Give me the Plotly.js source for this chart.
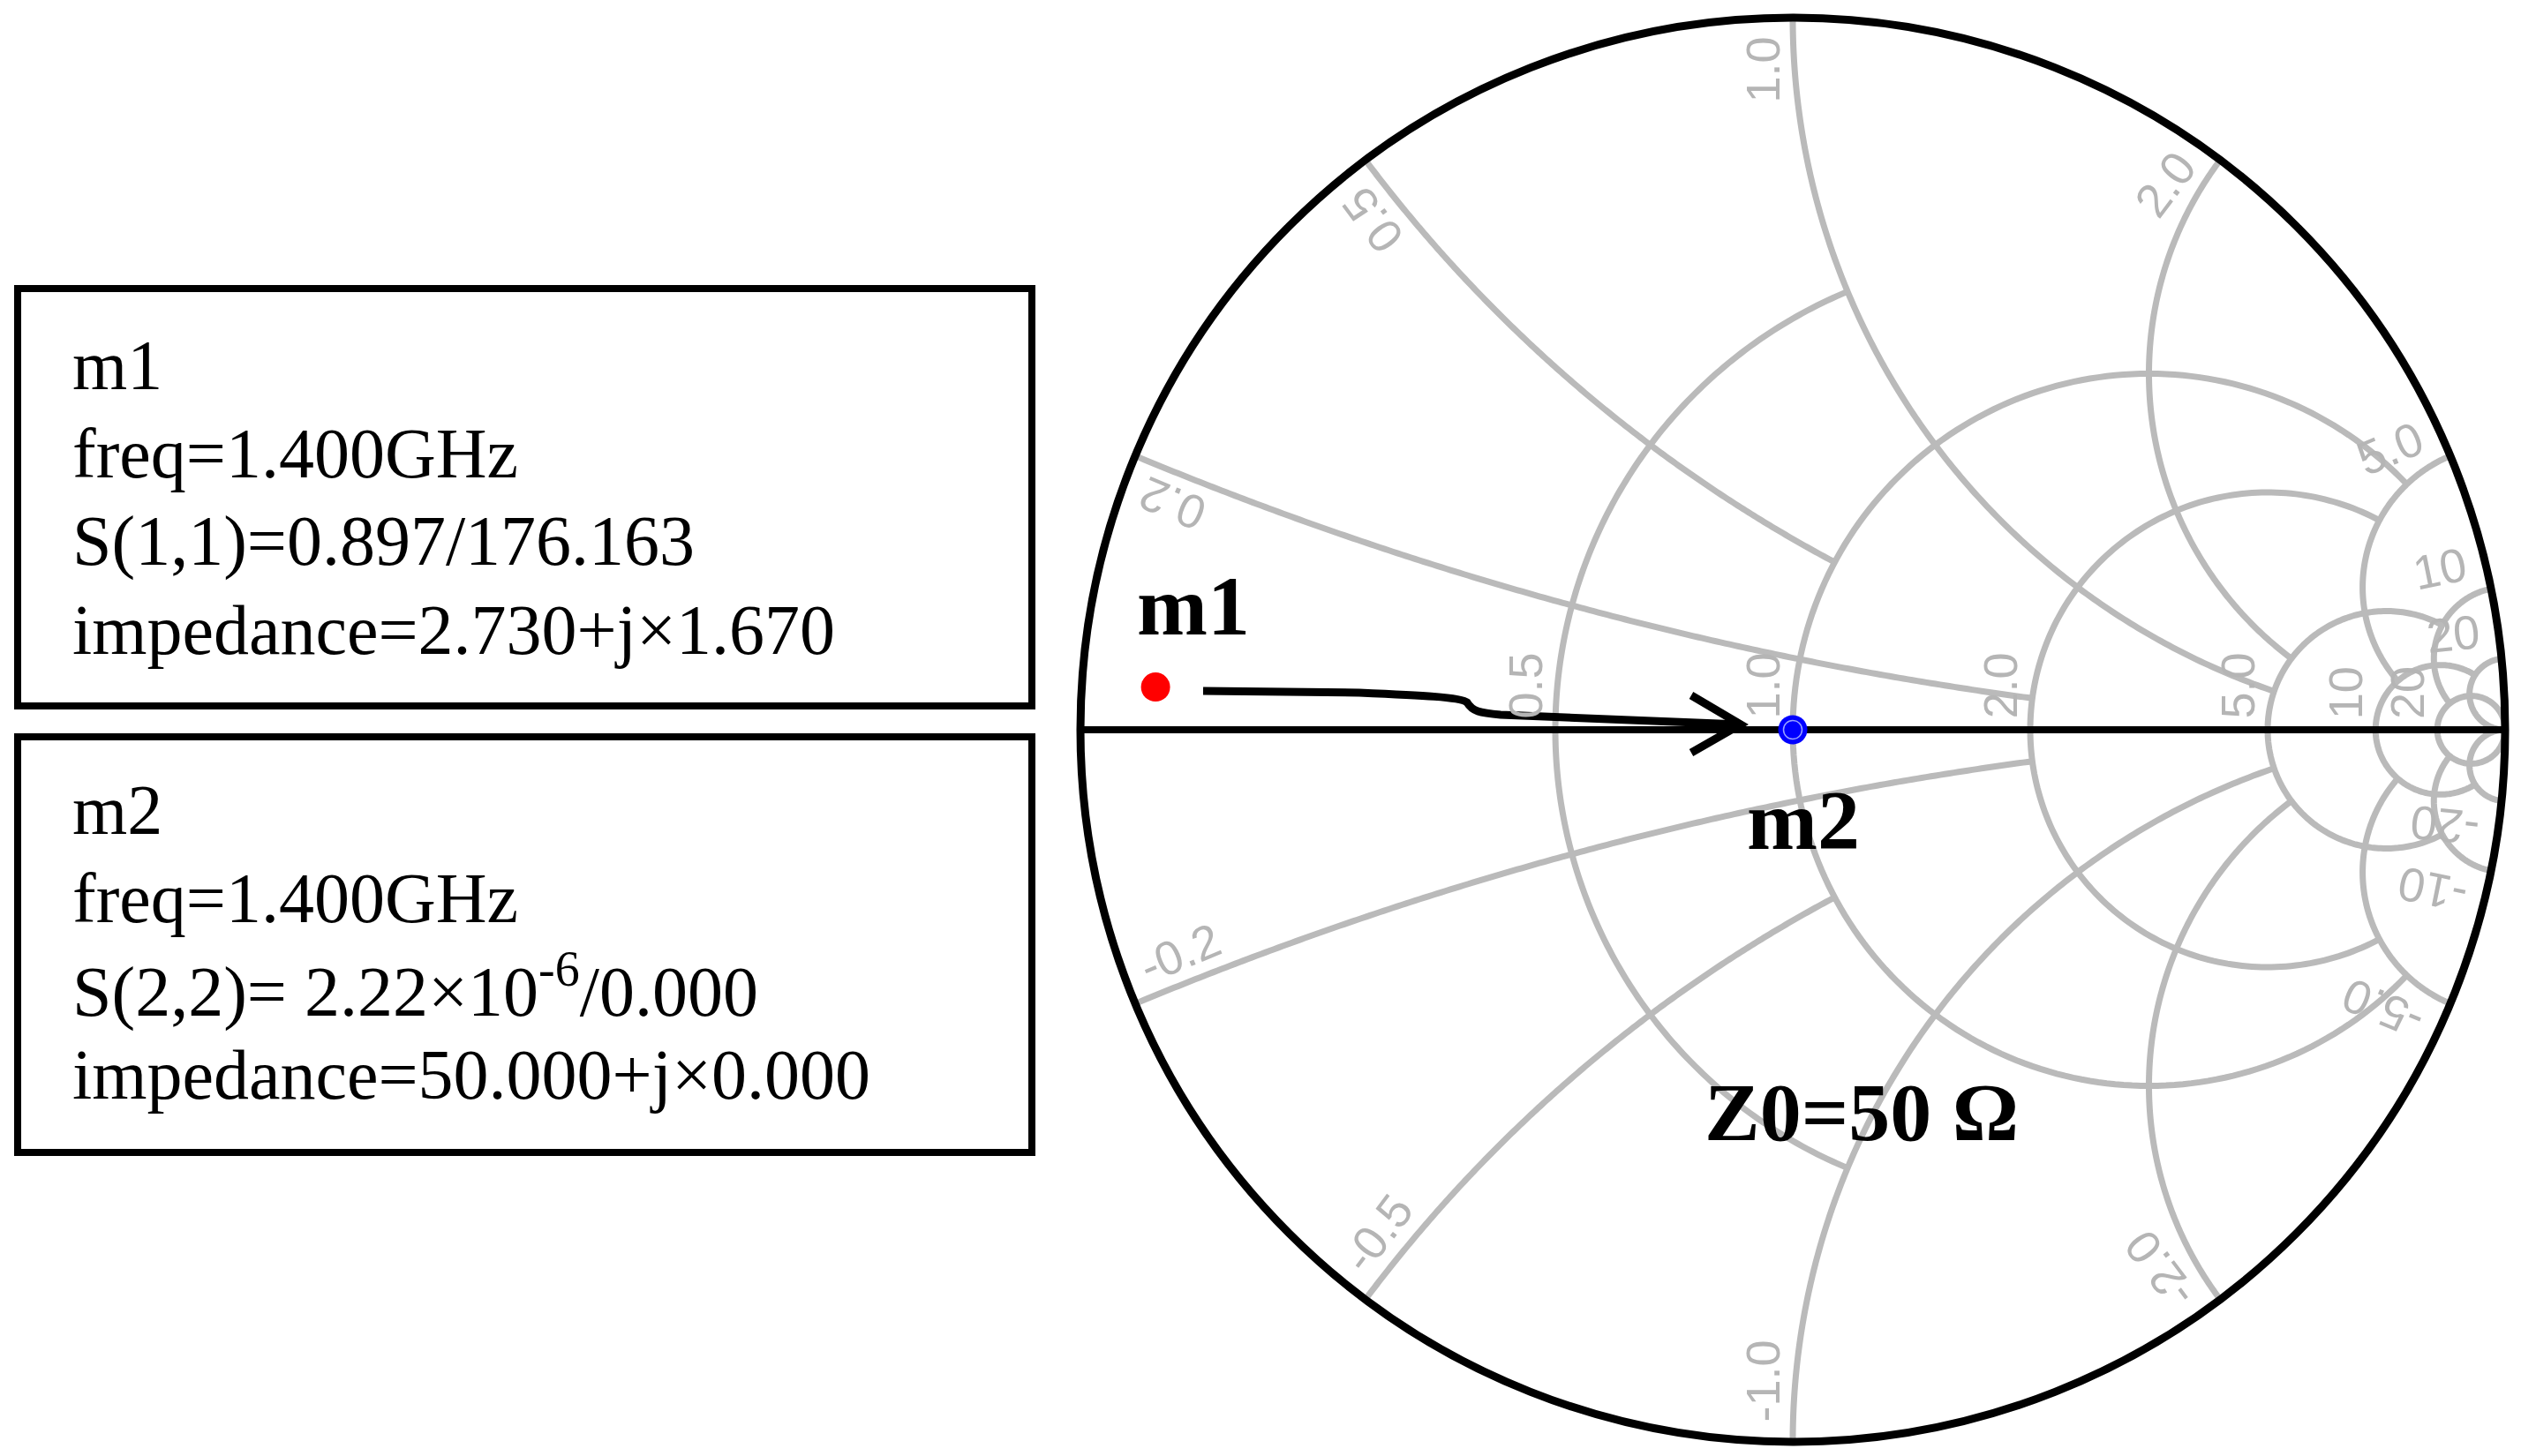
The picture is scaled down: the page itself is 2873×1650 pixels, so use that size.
<!DOCTYPE html>
<html><head><meta charset="utf-8">
<script src="https://cdn.plot.ly/plotly-3.0.1.min.js"></script>
<style>html,body{margin:0;padding:0;background:#fff;}#chart{width:2873px;height:1650px;}</style>
</head><body><div id="chart"></div>
<script>
// ---------------- data ----------------
const Z0 = 50;
const markerNames = ['m1', 'm2'];
const freqText = ['1.400GHz', '1.400GHz'];
const sParamNames = ['S(1,1)', 'S(2,2)'];
const sMagText = ['0.897', ' 2.22×10<sup>-6</sup>'];
const sAngText = ['176.163', '0.000'];
const zRealOhm = [2.730, 50.000];
const zImagOhm = [1.670, 0.000];
const zRealText = ['2.730', '50.000'];
const zImagText = ['1.670', '0.000'];
const markerColors = ['#ff0000', '#0000ff'];
// resistance circles and how far (in |reactance|) each one is drawn
const realTickVals = [0.5, 1, 2, 5, 10, 20];
const realTickText = ['0.5', '1.0', '2.0', '5.0', '10', '20'];
const realGridReach = [1, 5, 5, 10, 20, Infinity];
// reactance arcs and how far (in resistance) each one is drawn
const imagTickVals = [0.2, 0.5, 1, 2, 5, 10, 20];
const imagTickText = ['0.2', '0.5', '1.0', '2.0', '5.0', '10', '20'];
const imagGridReach = [2, 1, 5, 5, 10, 20, Infinity];
const z0Label = 'Z0=50 Ω';

// ---------------- geometry helpers ----------------
const W = 2873, H = 1650;
const CX = 2031, CY = 827, R = 807;
const px = x => x / W;
const py = y => 1 - y / H;
const GRID = '#bababa';
const LBL = '#b5b5b5';
const serif = 'Liberation Serif, Times New Roman, serif';
const sans = 'Liberation Sans, Arial, sans-serif';
const lblSize = 54;

function textLen(s, f) {
  let w = 0;
  for (const ch of s) w += (ch === '.') ? 0.278 : (ch === '-') ? 0.333 : 0.556;
  return w * f;
}
// reflection coefficient <-> normalised impedance
function gammaOf(r, x) {
  const d = (r + 1) * (r + 1) + x * x;
  return {x: (r * r - 1 + x * x) / d, y: 2 * x / d};
}
function zOf(gx, gy) {
  const d = (1 - gx) * (1 - gx) + gy * gy;
  return {r: (1 - gx * gx - gy * gy) / d, x: 2 * gy / d};
}

// ---------------- grid (drawn on the smith axes) ----------------
const gridRe = [], gridIm = [];
const NS = 200;
realTickVals.forEach((r, i) => {
  const L = realGridReach[i];
  const c = r / (r + 1), rho = 1 / (r + 1);
  let a0 = 0.0015;
  if (isFinite(L)) { const g = gammaOf(r, L); a0 = Math.atan2(g.y, g.x - c); }
  for (let k = 0; k <= NS; k++) {
    const a = a0 + (2 * Math.PI - 2 * a0) * k / NS;
    const z = zOf(c + rho * Math.cos(a), rho * Math.sin(a));
    gridRe.push(r); gridIm.push(z.x);
  }
  gridRe.push(null); gridIm.push(null);
});
imagTickVals.forEach((x, i) => {
  const L = imagGridReach[i];
  const g0 = gammaOf(0, x);
  let b0 = Math.atan2(g0.y - 1 / x, g0.x - 1);
  if (b0 > 0) b0 -= 2 * Math.PI;           // go round through the left-most point
  let b1 = -Math.PI / 2 - 0.0015;
  if (isFinite(L)) { const g1 = gammaOf(L, x); b1 = Math.atan2(g1.y - 1 / x, g1.x - 1); }
  [1, -1].forEach(sgn => {
    for (let k = 0; k <= NS; k++) {
      const b = b0 + (b1 - b0) * k / NS;
      const z = zOf(1 + Math.cos(b) / x, 1 / x + Math.sin(b) / x);
      gridRe.push(Math.max(0, z.r)); gridIm.push(sgn * x);
    }
    gridRe.push(null); gridIm.push(null);
  });
});

const annotations = [];
const shapes = [];

// marker readout boxes
const boxTop = [327, 835];
const boxBottom = [800, 1306];
const baseline0 = [441, 945];
const boxFont = 80;
for (let i = 0; i < markerNames.length; i++) {
  shapes.push({type: 'rect', xref: 'paper', yref: 'paper', x0: px(20), x1: px(1169),
    y0: py(boxBottom[i]), y1: py(boxTop[i]), line: {color: '#000', width: 8}, fillcolor: 'rgba(0,0,0,0)'});
  const lines = [
    markerNames[i],
    'freq=' + freqText[i],
    sParamNames[i] + '=' + sMagText[i] + '/' + sAngText[i],
    'impedance=' + zRealText[i] + '+j×' + zImagText[i]
  ];
  lines.forEach((t, k) => {
    annotations.push({xref: 'paper', yref: 'paper', x: px(80), y: py(baseline0[i] + k * 100 - 0.3375 * boxFont),
      xanchor: 'left', yanchor: 'middle', showarrow: false, text: t,
      font: {family: serif, size: boxFont, color: '#000'}});
  });
}

// chart labels
const chartLabelPos = [[1286, 719], [1977, 962]];
markerNames.forEach((n, i) => {
  annotations.push({xref: 'paper', yref: 'paper', x: px(chartLabelPos[i][0]), y: py(chartLabelPos[i][1] - 0.3375 * 96),
    xanchor: 'left', yanchor: 'middle', showarrow: false, text: '<b>' + n + '</b>',
    font: {family: serif, size: 96, color: '#000'}});
});
annotations.push({xref: 'paper', yref: 'paper', x: px(1929), y: py(1292 - 0.3375 * 94),
  xanchor: 'left', yanchor: 'middle', showarrow: false, text: '<b>' + z0Label + '</b>',
  font: {family: serif, size: 94, color: '#000'}});

// real-axis tick labels (rotated, above the axis, left of each circle)
realTickVals.forEach((r, i) => {
  const g = (r - 1) / (r + 1);
  const xc = CX + R * g - 34;
  const yc = CY - 12 - textLen(realTickText[i], lblSize) / 2;
  annotations.push({xref: 'paper', yref: 'paper', x: px(xc), y: py(yc), xanchor: 'center', yanchor: 'middle',
    showarrow: false, textangle: -90, text: realTickText[i], font: {family: sans, size: lblSize, color: LBL}});
});

// imaginary-axis tick labels (inside the rim, rotated radially)
imagTickVals.forEach((x, i) => {
  [1, -1].forEach(sgn => {
    const xv = sgn * x;
    const th = Math.atan2(2 * xv, xv * xv - 1);
    const txt = (sgn < 0 ? '-' : '') + imagTickText[i];
    const Px = CX + R * Math.cos(th), Py = CY - R * Math.sin(th);
    const d = 22 + textLen(txt, lblSize) / 2;
    let xc = Px - d * Math.cos(th), yc = Py + d * Math.sin(th);
    let ang;
    if (sgn > 0) {
      xc += -34 * Math.sin(th); yc += -34 * Math.cos(th);
      ang = -th * 180 / Math.PI;
    } else {
      xc += 34 * Math.sin(th); yc += 34 * Math.cos(th);
      ang = -(th * 180 / Math.PI + 180);
    }
    annotations.push({xref: 'paper', yref: 'paper', x: px(xc), y: py(yc), xanchor: 'center', yanchor: 'middle',
      showarrow: false, textangle: ang, text: txt, font: {family: sans, size: lblSize, color: LBL}});
  });
});

// hand-drawn arrow from m1 towards m2
const P = (x, y) => px(x) + ',' + py(y);
shapes.push({type: 'path', xref: 'paper', yref: 'paper',
  path: 'M' + P(1363, 783) + ' L' + P(1540, 785) + ' C' + P(1610, 788) + ' ' + P(1655, 790) + ' ' + P(1662, 796) +
        ' C' + P(1668, 806) + ' ' + P(1676, 808) + ' ' + P(1700, 810) + ' L' + P(1972, 821),
  line: {color: '#000', width: 9}});
shapes.push({type: 'path', xref: 'paper', yref: 'paper',
  path: 'M' + P(1916, 788) + ' L' + P(1972, 821) + ' L' + P(1916, 853),
  line: {color: '#000', width: 9}});

// ---------------- traces ----------------
const traces = [{
  type: 'scattersmith', real: gridRe, imag: gridIm, mode: 'lines', connectgaps: false,
  line: {color: GRID, width: 7}, hoverinfo: 'skip', showlegend: false
}, {
  type: 'scattersmith', real: [0, 1e9], imag: [0, 0], mode: 'lines',
  line: {color: '#000', width: 8}, hoverinfo: 'skip', showlegend: false
}, {
  type: 'scattersmith',
  real: zRealOhm.map(v => v / Z0),
  imag: zImagOhm.map(v => v / Z0),
  mode: 'markers',
  text: markerNames,
  marker: {color: markerColors, size: 33, line: {width: 0}},
  showlegend: false
}, {
  type: 'scattersmith',
  real: [zRealOhm[1] / Z0],
  imag: [zImagOhm[1] / Z0],
  mode: 'markers',
  marker: {symbol: 'circle-open', color: 'rgba(170,180,255,0.9)', size: 21, line: {width: 1.5}},
  showlegend: false
}];

const layout = {
  width: W, height: H,
  margin: {l: 0, r: 0, t: 0, b: 0, pad: 0},
  paper_bgcolor: '#fff',
  showlegend: false,
  smith: {
    domain: {x: [px(CX - R), px(CX + R)], y: [py(CY + R), py(CY - R)]},
    bgcolor: 'rgba(0,0,0,0)',
    realaxis: {tickvals: realTickVals, showticklabels: false, ticks: '', showgrid: false, showline: false},
    imaginaryaxis: {tickvals: imagTickVals, showticklabels: false, ticks: '', showgrid: false,
      showline: true, linecolor: '#000', linewidth: 9, layer: 'above traces'}
  },
  shapes: shapes,
  annotations: annotations
};

Plotly.newPlot('chart', traces, layout, {displayModeBar: false, staticPlot: true});
</script>
</body></html>
